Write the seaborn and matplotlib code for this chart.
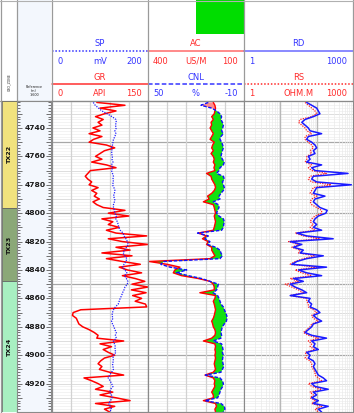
import numpy as np
import pandas as pd
import matplotlib
matplotlib.use("Agg")
import matplotlib.pyplot as plt
import seaborn as sns

sns.set_theme(style="white")
plt.rcParams['font.family'] = ['DejaVu Sans']

# ---------------- data ----------------
DEPTH = list(range(4722, 4942, 2))

GR = [70, 114, 75, 100, 82, 68, 80, 72, 78, 64,
      75, 58, 78, 65, 58, 85, 98, 82, 75, 68,
      78, 62, 85, 100, 60, 56, 52, 56, 62, 58,
      72, 62, 70, 66, 74, 64, 70, 80, 114, 88,
      120, 78, 95, 88, 105, 85, 100, 148, 88, 110,
      150, 100, 122, 78, 125, 85, 110, 138, 105, 118,
      140, 110, 130, 145, 125, 150, 124, 147, 126, 140,
      130, 146, 148, 45, 33, 32, 38, 40, 42, 48,
      58, 66, 72, 70, 112, 75, 93, 80, 88, 98,
      82, 76, 72, 78, 74, 90, 112, 50, 62, 72,
      80, 68, 95, 75, 100, 122, 68, 98, 82, 90]

SP = [86, 90, 97, 104, 115, 125, 133, 134, 132, 134,
      131, 133, 131, 128, 127, 126, 124, 125, 124, 126,
      125, 127, 124, 126, 124, 126, 128, 127, 128, 126,
      129, 131, 130, 128, 131, 130, 128, 128, 130, 131,
      134, 133, 136, 138, 139, 142, 148, 150, 154, 157,
      159, 155, 152, 148, 151, 156, 154, 150, 147, 152,
      156, 151, 155, 158, 157, 152, 150, 147, 145, 142,
      140, 138, 132, 128, 126, 125, 127, 124, 126, 129,
      131, 134, 132, 134, 128, 130, 132, 131, 133, 128,
      127, 128, 126, 127, 128, 124, 120, 117, 121, 124,
      127, 122, 120, 124, 125, 122, 118, 121, 124, 120]

AC = [196, 191, 189, 191, 193, 201, 196, 203, 201, 206,
      201, 196, 201, 206, 193, 198, 201, 196, 203, 196,
      193, 196, 191, 194, 191, 217, 203, 201, 196, 191,
      189, 193, 201, 214, 209, 227, 196, 193, 191, 189,
      193, 191, 189, 191, 193, 196, 243, 217, 230, 212,
      217, 201, 201, 196, 191, 206, 397, 340, 300, 316,
      321, 295, 243, 206, 196, 193, 193, 238, 189, 191,
      196, 193, 191, 189, 191, 193, 196, 201, 198, 196,
      191, 189, 191, 201, 227, 191, 189, 191, 189, 191,
      189, 191, 193, 191, 189, 196, 222, 196, 191, 193,
      191, 196, 201, 196, 196, 227, 189, 186, 191, 189]

CNL = [12.3, 16.9, 10.2, 7.1, 5, 4, 4.4, 3.5, 2.9, 3.3,
       4, 2.9, 4.4, 5, 4, 3.3, 2.9, 3.5, 4, 4.4,
       3.5, 2.3, 2.9, 5, 5.6, 7.1, 2.9, 2.3, 3.5, 2.9,
       2.3, 2.9, 4.4, 5.6, 5, 9.2, 6, 5.6, 6.5, 7.1,
       5.6, 2.9, 2.3, 2.7, 2.9, 4, 19, 12.3, 14.4, 11.3,
       12.7, 7.7, 5, 4.4, 3.5, 5, 40, 42, 36.3, 25.8,
       32.1, 24.8, 16.5, 11.3, 6, 6.5, 7.1, 9.2, 6.5, 5.6,
       5, 4.4, 2.9, 2.3, 1.5, 0.8, 0.6, 1, 2.3, 3.5,
       4, 4.4, 4, 4.4, 9.2, 4, 3.5, 3.1, 3.5, 2.9,
       3.3, 3.5, 3.1, 2.7, 3.5, 4.4, 14, 5, 3.5, 2.9,
       3.3, 4.4, 5, 5.6, 6.5, 14.4, 4.4, 2.3, 1.9, 2.9]

RD = [53, 73, 100, 111, 123, 81, 48, 39, 48, 59,
      66, 137, 59, 53, 73, 90, 100, 81, 90, 59,
      66, 53, 137, 73, 90, 730, 81, 73, 100, 900,
      100, 90, 81, 169, 90, 81, 100, 123, 195, 178,
      111, 90, 81, 100, 81, 137, 28.5, 53, 285, 18.7,
      39, 23, 43, 35, 152, 53, 28.5, 20.7, 187, 31.6,
      53, 137, 23, 43, 18.7, 25.5, 39, 53, 18.7, 66,
      59, 73, 66, 100, 123, 81, 100, 137, 81, 73,
      59, 48, 73, 187, 73, 90, 81, 111, 53, 66,
      59, 81, 90, 81, 90, 100, 111, 152, 187, 73,
      90, 208, 81, 100, 73, 111, 81, 208, 111, 137]

RS = [48, 59, 73, 90, 100, 73, 35, 31.6, 39, 48,
      53.5, 73, 48, 48, 59, 73, 81, 66, 73, 53.5,
      53.5, 48, 73, 59, 73, 187, 66, 59, 73, 250,
      81, 73, 66, 100, 73, 66, 73, 100, 137, 137,
      90, 73, 66, 81, 66, 90, 25.5, 43, 123, 16.9,
      31.6, 20.7, 35, 31.6, 90, 43, 25.5, 18.7, 100, 25.5,
      39, 73, 18.7, 31.6, 13.7, 20.7, 31.6, 43, 18.7, 53.5,
      53.5, 59, 59, 81, 100, 73, 81, 111, 73, 66,
      53.5, 43, 59, 111, 59, 73, 66, 90, 48, 53.5,
      48, 66, 73, 73, 81, 90, 90, 111, 137, 59,
      73, 137, 66, 81, 66, 90, 73, 137, 90, 111]

ZONE_NAMES = ["TX22", "TX23", "TX24"]
ZONE_TOPS = [4721, 4796, 4848]
ZONE_BOTS = [4796, 4848, 4940]
ZONE_COLORS = ["#f1e27e", "#8ba878", "#a8efc1"]

DEPTH_LABELS = [4740, 4760, 4780, 4800, 4820, 4840, 4860, 4880, 4900, 4920]

BLUE = "#3535ff"
RED = "#ff2a2a"
# (title, unit, left value, right value, text colour, line colour, line style)
HEADER_ROW1 = [("SP", "mV", "0", "200", BLUE, BLUE, (0, (1, 1.2))),
               ("AC", "US/M", "400", "100", RED, "#ff6a6a", "-"),
               ("RD", "", "1", "1000", BLUE, "#6a6aff", "-")]
HEADER_ROW2 = [("GR", "API", "0", "150", RED, "#ff3030", "-"),
               ("CNL", "%", "50", "-10", BLUE, BLUE, (0, (3, 1.5))),
               ("RS", "OHM.M", "1", "1000", RED, RED, (0, (1, 1.2)))]

df = pd.DataFrame({"DEPTH": DEPTH, "GR": GR, "SP": SP, "AC": AC,
                   "CNL": CNL, "RD": RD, "RS": RS})

# ---------------- layout ----------------
W, H = 354, 413
fig = plt.figure(figsize=(W / 100, H / 100), dpi=100)
fig.patch.set_facecolor("white")

def add_ax(x0, y0, x1, y1, **kw):
    return fig.add_axes([x0 / W, 1 - y1 / H, (x1 - x0) / W, (y1 - y0) / H], **kw)

TOP, BOT = 101, 412
DMIN, DMAX = 4721, 4940
TRACKS = [(52, 148), (148, 244), (244, 353)]
GRIDC = "#d2d2d2"

# background / header axes
bg = add_ax(0, 0, W, H, zorder=0)
bg.set_xlim(0, W)
bg.set_ylim(H, 0)
bg.axis("off")
bg.add_patch(plt.Rectangle((17, 0), 34, H, color="#f3f7fd", lw=0))

def clean(ax):
    ax.set_xlabel("")
    ax.set_ylabel("")
    ax.set_xticks([])
    ax.set_yticks([])
    ax.tick_params(length=0)

def hgrid(ax):
    for d in range(4722, 4941, 2):
        if d % 50 == 0:
            c, lw = "#a8a8a8", 0.9
        elif d % 10 == 0:
            c, lw = "#d8d8d8", 0.6
        else:
            c, lw = "#eeeeee", 0.5
        ax.axhline(d, color=c, lw=lw, zorder=0)

# ---- Track 1 : GR / SP ----
ax1 = add_ax(TRACKS[0][0], TOP, TRACKS[0][1], BOT, zorder=2)
hgrid(ax1)
for f in [0.2, 0.4, 0.6, 0.8]:
    ax1.axvline(150 * f, color=GRIDC, lw=0.9, zorder=0)
sns.lineplot(data=df, x="GR", y="DEPTH", orient="y", sort=False, estimator=None,
             color="#ff0000", lw=1.1, ax=ax1)
ax1.set_xlim(0, 150)
ax1b = ax1.twiny()
sns.lineplot(data=df, x="SP", y="DEPTH", orient="y", sort=False, estimator=None,
             color="#2020ff", lw=0.9, linestyle=(0, (1, 1)), ax=ax1b)
ax1b.set_xlim(0, 200)

# ---- Track 2 : AC / CNL ----
ax2 = add_ax(TRACKS[1][0], TOP, TRACKS[1][1], BOT, zorder=2)
hgrid(ax2)
ax2.set_xlim(400, 100)
for f in [0.2, 0.4, 0.6, 0.8]:
    ax2.axvline(400 - 300 * f, color=GRIDC, lw=0.9, zorder=0)
ac = np.array(AC, float)
cnl_as_ac = 400 - (50 - np.array(CNL, float)) / 60 * 300
ax2.fill_betweenx(DEPTH, ac, cnl_as_ac, where=cnl_as_ac <= ac, interpolate=True,
                  color="#12e012", lw=0, zorder=1)
ax2.fill_betweenx(DEPTH, ac, cnl_as_ac, where=cnl_as_ac > ac, interpolate=True,
                  color="#ff8c8c", lw=0, zorder=1)
sns.lineplot(data=df, x="AC", y="DEPTH", orient="y", sort=False, estimator=None,
             color="#ff0000", lw=1.0, ax=ax2)
ax2.set_xlim(400, 100)
ax2b = ax2.twiny()
sns.lineplot(data=df, x="CNL", y="DEPTH", orient="y", sort=False, estimator=None,
             color="#1010ff", lw=1.0, linestyle=(0, (2.5, 1.2)), ax=ax2b)
ax2b.set_xlim(50, -10)

# ---- Track 3 : RD / RS ----
ax3 = add_ax(TRACKS[2][0], TOP, TRACKS[2][1], BOT, zorder=2)
hgrid(ax3)
ax3.set_xscale("log")
ax3.set_xlim(1, 1000)
for k in [1, 10, 100]:
    for m in range(2, 10):
        ax3.axvline(k * m, color="#eaeaea", lw=0.5, zorder=0)
for v in [10, 100]:
    ax3.axvline(v, color="#b8b8b8", lw=1.0, zorder=0)
sns.lineplot(data=df, x="RS", y="DEPTH", orient="y", sort=False, estimator=None,
             color="#ff2020", lw=0.9, linestyle=(0, (1, 1)), ax=ax3)
sns.lineplot(data=df, x="RD", y="DEPTH", orient="y", sort=False, estimator=None,
             color="#1a1aff", lw=1.1, ax=ax3)
ax3.set_xscale("log")
ax3.set_xlim(1, 1000)

for ax in [ax1, ax1b, ax2, ax2b, ax3]:
    ax.set_ylim(DMAX, DMIN)
    clean(ax)
    ax.set_facecolor("none")
    for s in ax.spines.values():
        s.set_color("#8a8a8a")
        s.set_linewidth(0.8)
for ax in [ax1, ax2, ax3]:
    ax.set_facecolor("white")

# ---- Zone column ----
axz = add_ax(1.5, TOP, 16.5, BOT, zorder=2)
axz.set_ylim(DMAX, DMIN)
axz.set_xlim(0, 1)
for name, t, b, c in zip(ZONE_NAMES, ZONE_TOPS, ZONE_BOTS, ZONE_COLORS):
    axz.axhspan(t, b, color=c, ec="#5a5a5a", lw=0.5)
    axz.text(0.5, (t + b) / 2, name, rotation=90, ha="center", va="center",
             fontsize=4.6, fontweight="bold", color="#111111")
axz.axis("off")

# ---- Depth column ----
axd = add_ax(17, TOP, 51, BOT, zorder=2)
axd.set_facecolor("#f3f7fd")
axd.set_ylim(DMAX, DMIN)
axd.set_xlim(0, 1)
axd.set_xticks([])
axd.set_yticks(list(range(4730, 4941, 10)))
axd.set_yticks(list(range(4722, 4941, 2)), minor=True)
axd.tick_params(axis="y", which="both", left=True, right=True, direction="in",
                labelleft=False, color="#6f6f6f", width=0.7)
axd.tick_params(axis="y", which="major", length=3.5)
axd.tick_params(axis="y", which="minor", length=2.2)
for d in DEPTH_LABELS:
    axd.text(0.53, d, str(d), ha="center", va="center", fontsize=5.4,
             fontweight="bold", color="#1a1a1a")
for s in axd.spines.values():
    s.set_color("#8a8a8a")
    s.set_linewidth(0.8)

# ---- Header ----
for (x0, x1), r1, r2 in zip(TRACKS, HEADER_ROW1, HEADER_ROW2):
    xc = (x0 + x1) / 2
    for (title, unit, lo, hi, tcol, lcol, ls), yt, yl, ys in [(r1, 43.5, 51, 61), (r2, 77, 84, 93.5)]:
        bg.text(xc, yt, title, ha="center", va="center", fontsize=6, color=tcol)
        bg.plot([x0, x1], [yl, yl], color=lcol, lw=1.1, linestyle=ls)
        bg.text(x0 + 5, ys, lo, ha="left", va="center", fontsize=6, color=tcol)
        bg.text(x1 - 6, ys, hi, ha="right", va="center", fontsize=6, color=tcol)
        if unit:
            bg.text(xc, ys, unit, ha="center", va="center", fontsize=6, color=tcol)

bg.add_patch(plt.Rectangle((196, 0), 48, 33.5, color="#00dd00", lw=0))
bg.text(9, 82, "GEO_ZONE", rotation=90, ha="center", va="center", fontsize=2.3, color="#333333")
bg.text(34, 91, "Reference\n(m)\n1:600", ha="center", va="center", fontsize=2.4,
        color="#222222", linespacing=1.1)

# separators
for x in [0.5, 17, 51.5, 148, 244, 353]:
    bg.plot([x, x], [0, H], color="#9a9a9a", lw=0.9)
bg.plot([0, W], [100.5, 100.5], color="#9a9a9a", lw=0.9)
bg.plot([0, W], [0.5, 0.5], color="#b0b0b0", lw=0.8)
bg.plot([0, W], [H - 0.5, H - 0.5], color="#9a9a9a", lw=0.8)

fig.savefig("out.png", dpi=100)
